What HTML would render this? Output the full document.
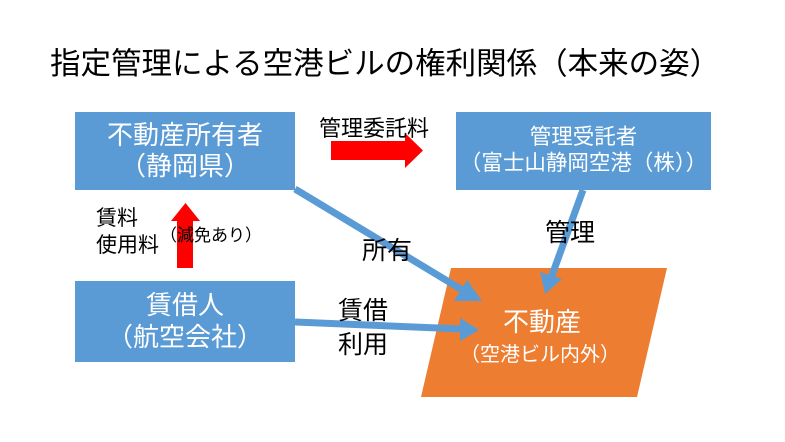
<!DOCTYPE html>
<html><head><meta charset="utf-8"><style>
body{margin:0;width:785px;height:442px;background:#fff;overflow:hidden;font-family:"Liberation Sans","Noto Sans CJK JP",sans-serif;}
.t{position:absolute;white-space:nowrap;}
.box{position:absolute;background:#5b9bd5;color:#fff;display:flex;flex-direction:column;align-items:center;justify-content:center;line-height:1.2;}
</style></head><body>
<div class="t" style="left:50px;top:39px;font-size:30.5px;">指定管理による空港ビルの権利関係（本来の姿）</div>
<svg width="785" height="442" style="position:absolute;left:0;top:0">
<polygon points="451,268 667,268 637,397 421,397" fill="#ed7d31"/>
<polygon points="331,141 405,141 405,133 423,150.5 405,168 405,160 331,160" fill="#f00"/>
<polygon points="177,268 177,221 171,221 185.5,203 200,221 193,221 193,268" fill="#f00"/>
<g stroke="#5b9bd5" stroke-width="7" fill="#5b9bd5">
<line x1="295" y1="189" x2="464" y2="291"/>
<line x1="295" y1="322" x2="462" y2="329"/>
<line x1="583" y1="190" x2="551" y2="278"/>
</g>
<g fill="#5b9bd5">
<polygon points="482,301 454,301 467,280"/>
<polygon points="479,330 460,318 460,341"/>
<polygon points="545,294 540,272 562,279"/>
</g>
</svg>
<div class="box" style="left:75px;top:112px;width:220px;height:78px;font-size:26px;"><div>不動産所有者</div><div>（静岡県）</div></div>
<div class="box" style="left:456px;top:112px;width:255px;height:78px;font-size:21.5px;"><div>管理受託者</div><div>（富士山静岡空港（株））</div></div>
<div class="box" style="left:75px;top:281px;width:220px;height:81px;font-size:26px;"><div>賃借人</div><div>（航空会社）</div></div>
<div class="t" style="left:319px;top:111px;font-size:22px;">管理委託料</div>
<div class="t" style="left:96px;top:205px;font-size:21px;line-height:27px;">賃料<br>使用料</div>
<div class="t" style="left:160px;top:221px;font-size:17px;">（減免あり）</div>
<div class="t" style="left:362px;top:231px;font-size:25px;">所有</div>
<div class="t" style="left:545px;top:213px;font-size:25px;">管理</div>
<div class="t" style="left:338px;top:294px;font-size:25px;line-height:34px;">賃借<br>利用</div>
<div class="t" style="left:503px;top:302px;font-size:26px;color:#fff;">不動産</div>
<div class="t" style="left:460px;top:338px;font-size:20px;color:#fff;">（空港ビル内外）</div>
</body></html>
